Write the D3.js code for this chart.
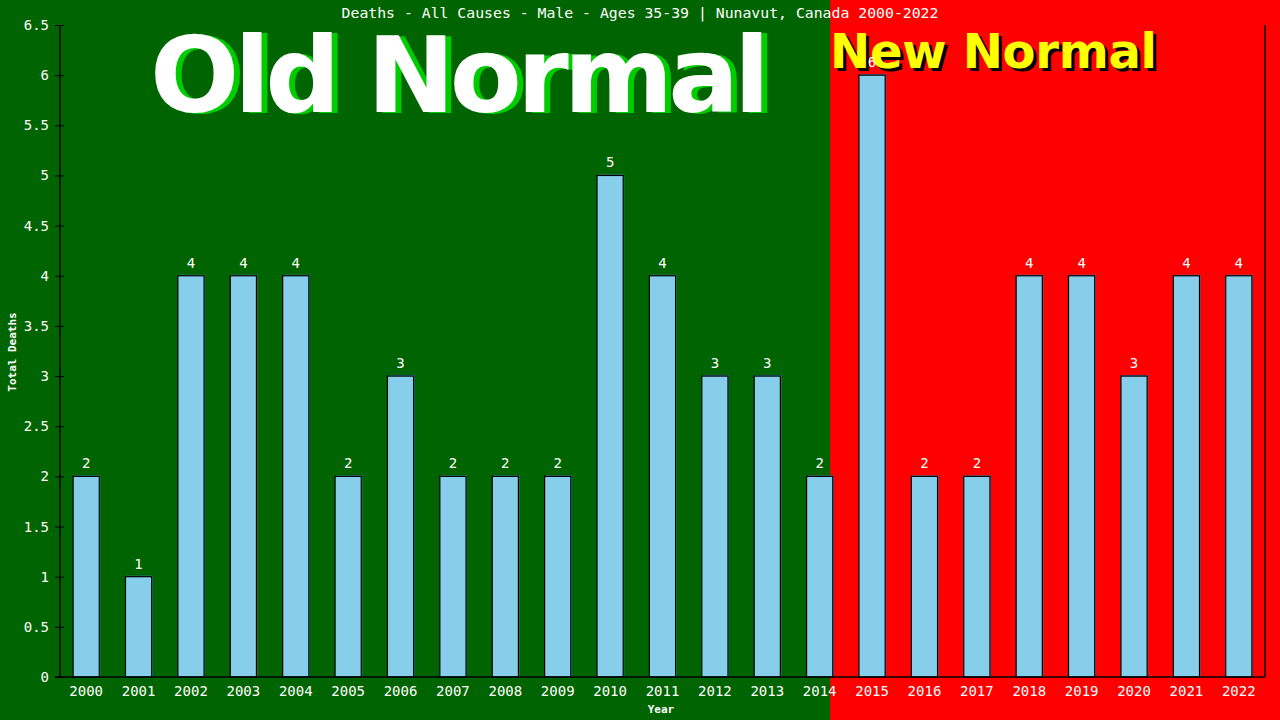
<!DOCTYPE html>
<html>
<head>
<meta charset="utf-8">
<script src="https://cdn.jsdelivr.net/npm/d3@7"></script>
<style>
  body{margin:0;background:#006400;}
  svg{display:block;}
</style>
</head>
<body>
<div class="canvas"></div>
<script>
// chart values
const years=['2000','2001','2002','2003','2004','2005','2006','2007','2008','2009','2010','2011',
  '2012','2013','2014','2015','2016','2017','2018','2019','2020','2021','2022'];
const deaths=[2,1,4,4,4,2,3,2,2,2,5,4,3,3,2,6,2,2,4,4,3,4,4];
const yTicks=[0,0.5,1,1.5,2,2.5,3,3.5,4,4.5,5,5.5,6,6.5];
const title='Deaths - All Causes - Male - Ages 35-39 | Nunavut, Canada 2000-2022';

const dims={width:1280,height:720};
const plot={left:60,right:1265,top:25,bottom:677};
const mono="'DejaVu Sans Mono', monospace";

const svg=d3.select('.canvas')
.append('svg')
.attr('width',dims.width)
.attr('height',dims.height);

const x=d3.scaleBand()
.domain(years)
.range([plot.left,plot.right])
.paddingInner(0.5)
.paddingOuter(0.25);

const y=d3.scaleLinear()
.domain([0,6.5])
.range([plot.bottom,plot.top]);

// background split: old normal (green) / new normal (red)
const splitX=x('2014')+x.step()*0.45;
svg.append('rect')
.attr('x',0).attr('y',0)
.attr('width',splitX).attr('height',dims.height)
.attr('fill','#006400');
svg.append('rect')
.attr('x',splitX).attr('y',0)
.attr('width',dims.width-splitX).attr('height',dims.height)
.attr('fill','#ff0000');

// big labels
const bold="'DejaVu Sans', Verdana, sans-serif";
const oldG=svg.append('g');
[['#00cc00',6,1],['#ffffff',0,0]].forEach(([c,dx,dy])=>{
  oldG.append('text')
  .attr('x',150+dx).attr('y',112+dy)
  .attr('textLength',620)
  .attr('lengthAdjust','spacing')
  .attr('font-family',bold)
  .attr('font-weight','bold')
  .attr('font-size',105)
  .attr('fill',c)
  .text('Old Normal');
});
const newG=svg.append('g');
[['#000000',3,3],['#ffff00',0,0]].forEach(([c,dx,dy])=>{
  newG.append('text')
  .attr('x',830+dx).attr('y',68+dy)
  .attr('textLength',327)
  .attr('lengthAdjust','spacing')
  .attr('font-family',bold)
  .attr('font-weight','bold')
  .attr('font-size',48)
  .attr('fill',c)
  .text('New Normal');
});

// title
svg.append('text')
.attr('x',640).attr('y',18)
.attr('text-anchor','middle')
.attr('font-family',mono)
.attr('font-size',14.8)
.attr('fill','#fff')
.text(title);

// bars: shadow + fill
const bars=svg.append('g');
bars.selectAll('rect.shadow')
.data(deaths)
.enter().append('rect')
.attr('class','shadow')
.attr('x',(d,i)=>x(years[i])+1)
.attr('y',d=>y(d)-1)
.attr('width',x.bandwidth())
.attr('height',d=>y(0)-y(d)+1)
.attr('fill','#4682b4');
bars.selectAll('rect.bar')
.data(deaths)
.enter().append('rect')
.attr('class','bar')
.attr('x',(d,i)=>x(years[i]))
.attr('y',d=>y(d))
.attr('width',x.bandwidth())
.attr('height',d=>y(0)-y(d))
.attr('fill','#87ceeb')
.attr('stroke','#000')
.attr('stroke-width',1.2);

// value labels
svg.append('g').selectAll('text')
.data(deaths)
.enter().append('text')
.attr('x',(d,i)=>x(years[i])+x.bandwidth()/2)
.attr('y',d=>y(d)-8)
.attr('text-anchor','middle')
.attr('font-family',mono)
.attr('font-size',14)
.attr('fill','#fff')
.text(d=>d);

// axes
const yAxis=d3.axisLeft(y)
.tickValues(yTicks)
.tickFormat(d=>d)
.tickSize(5)
.tickPadding(6);
const yG=svg.append('g')
.attr('transform',`translate(${plot.left},0)`)
.call(yAxis);
yG.select('.domain').attr('stroke','#000').attr('stroke-width',1.5).attr('d',`M0,${plot.top}V${plot.bottom}`);
yG.selectAll('.tick line').attr('stroke','#000').attr('x2',-5).attr('x1',4);
yG.selectAll('text')
.attr('fill','#fff')
.attr('font-family',mono)
.attr('font-size',14);

const xAxis=d3.axisBottom(x).tickSize(0).tickPadding(9);
const xG=svg.append('g')
.attr('transform',`translate(0,${plot.bottom})`)
.call(xAxis);
xG.select('.domain').attr('stroke','#000').attr('stroke-width',1.5).attr('d',`M${plot.left-5},0H${plot.right}`);
xG.selectAll('text')
.attr('fill','#fff')
.attr('font-family',mono)
.attr('font-size',14);

// right border
svg.append('line')
.attr('x1',plot.right).attr('x2',plot.right)
.attr('y1',plot.top).attr('y2',plot.bottom)
.attr('stroke','#000').attr('stroke-width',1.5);

// axis titles
svg.append('text')
.attr('x',661).attr('y',713)
.attr('text-anchor','middle')
.attr('font-family',mono)
.attr('font-weight','bold')
.attr('font-size',11)
.attr('fill','#fff')
.text('Year');
svg.append('text')
.attr('transform','translate(16,352) rotate(-90)')
.attr('text-anchor','middle')
.attr('font-family',mono)
.attr('font-weight','bold')
.attr('font-size',11)
.attr('fill','#fff')
.text('Total Deaths');
</script>
</body>
</html>
